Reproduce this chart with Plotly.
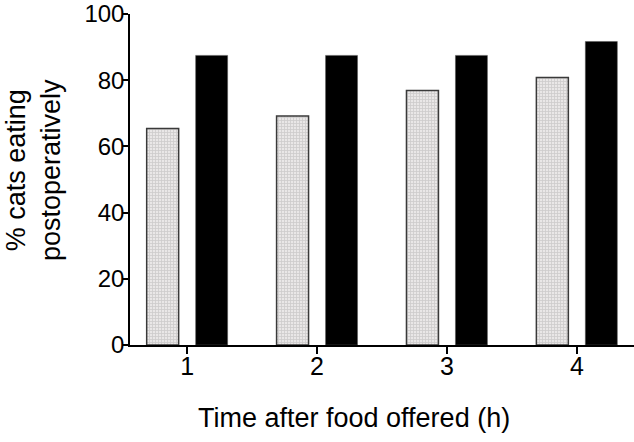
import plotly.graph_objects as go

categories = [1, 2, 3, 4]
series_a = [65.4, 69.2, 76.9, 80.8]
series_b = [87.5, 87.5, 87.5, 91.7]
y_ticks = [0, 20, 40, 60, 80, 100]

FONT = "Liberation Sans, Arial, sans-serif"

fig = go.Figure()
fig.add_trace(go.Bar(
    x=categories, y=series_a,
    marker=dict(color="#dcdcdc",
                pattern=dict(shape="+", fgcolor="#b0b0b0", bgcolor="#e9e7e7", size=3, solidity=0.45),
                line=dict(color="#3a3a3a", width=1.5)),
    showlegend=False))
fig.add_trace(go.Bar(
    x=categories, y=series_b,
    marker=dict(color="#000000", line=dict(color="#555555", width=0.5)),
    showlegend=False))

fig.update_layout(
    width=634, height=442,
    margin=dict(l=130, r=0, t=14, b=97, autoexpand=False),
    paper_bgcolor="white", plot_bgcolor="white",
    barmode="group", bargap=0.246, bargroupgap=0.347,
    font=dict(family=FONT, size=25, color="black"),
    xaxis=dict(range=[0.56, 4.44], tickvals=categories, ticktext=[str(c) for c in categories],
               showline=True, linecolor="black", linewidth=1.5, ticks="outside", ticklen=7,
               tickwidth=1.5, tickcolor="black", showgrid=False, zeroline=False,
               tickfont=dict(size=25), ticklabeloverflow="allow", automargin=False,
               ticklabelstandoff=-9),
    yaxis=dict(range=[0, 100], tickvals=y_ticks, showline=True, linecolor="black", linewidth=1.5,
               ticks="outside", ticklen=6, tickwidth=1.5, tickcolor="black",
               showgrid=False, zeroline=False, tickfont=dict(size=24),
               ticklabeloverflow="allow", automargin=False, ticklabelstandoff=-7),
    annotations=[
        dict(text="Time after food offered (h)", xref="paper", yref="paper",
             x=(354 - 130) / 504, y=-(418 - 345) / 331, xanchor="center", yanchor="middle",
             showarrow=False, font=dict(size=27)),
        dict(text="% cats eating<br>postoperatively", xref="paper", yref="paper",
             x=-(130 - 33) / 504, y=(345 - 170) / 331, xanchor="center", yanchor="middle",
             textangle=-90, showarrow=False, font=dict(size=27)),
    ],
)

fig.write_html("out.html", config={"displayModeBar": False},
               post_script="document.body.style.margin='0';")
